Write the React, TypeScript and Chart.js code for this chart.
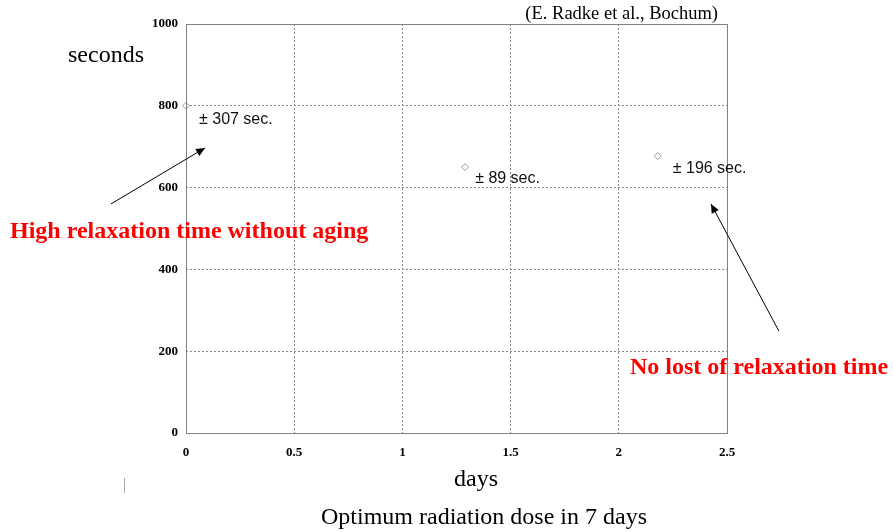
import React, { useEffect, useRef } from "react";
import { Chart, registerables } from "chart.js";

Chart.register(...registerables);

const daysValues = [0, 1.29, 2.18];
const secondsValues = [800, 650, 677];
const errorLabels = ["± 307 sec.", "± 89 sec.", "± 196 sec."];
const xTicks = [0, 0.5, 1, 1.5, 2, 2.5];
const yTicks = [0, 200, 400, 600, 800, 1000];
// arrows in data coordinates: [fromX, fromY, toX, toY]
const arrowLines = [
  [-0.347, 560, 0.088, 697],
  [2.74, 249, 2.426, 560],
];

const overlayPlugin = {
  id: "overlay",
  afterDraw(chart: any) {
    const ctx = chart.ctx;
    const a = chart.chartArea;
    const xs = chart.scales.x;
    const ys = chart.scales.y;
    ctx.save();
    // frame
    ctx.strokeStyle = "#808080";
    ctx.lineWidth = 1;
    ctx.strokeRect(a.left + 0.5, a.top + 0.5, a.right - a.left, a.bottom - a.top);

    // error labels
    ctx.fillStyle = "#111";
    ctx.font = "16px 'Liberation Sans', Arial, sans-serif";
    ctx.textBaseline = "middle";
    ctx.textAlign = "left";
    const offs = [
      [13, 14],
      [10, 11],
      [15, 12],
    ];
    errorLabels.forEach((t, i) => {
      const px = xs.getPixelForValue(daysValues[i]);
      const py = ys.getPixelForValue(secondsValues[i]);
      ctx.fillText(t, px + offs[i][0], py + offs[i][1]);
    });

    // arrows
    ctx.strokeStyle = "#000";
    ctx.fillStyle = "#000";
    ctx.lineWidth = 1;
    arrowLines.forEach(([x1, y1, x2, y2]) => {
      const p1x = xs.getPixelForValue(x1);
      const p1y = ys.getPixelForValue(y1);
      const p2x = xs.getPixelForValue(x2);
      const p2y = ys.getPixelForValue(y2);
      ctx.beginPath();
      ctx.moveTo(p1x, p1y);
      ctx.lineTo(p2x, p2y);
      ctx.stroke();
      const ang = Math.atan2(p2y - p1y, p2x - p1x);
      const L = 9, W = 4;
      ctx.beginPath();
      ctx.moveTo(p2x, p2y);
      ctx.lineTo(p2x - L * Math.cos(ang) + W * Math.sin(ang), p2y - L * Math.sin(ang) - W * Math.cos(ang));
      ctx.lineTo(p2x - L * Math.cos(ang) - W * Math.sin(ang), p2y - L * Math.sin(ang) + W * Math.cos(ang));
      ctx.closePath();
      ctx.fill();
    });

    // red texts
    ctx.fillStyle = "#ff0000";
    ctx.font = "bold 24px 'Liberation Serif', 'Times New Roman', serif";
    ctx.textAlign = "left";
    ctx.fillText("High relaxation time without aging", 10, 232);
    ctx.fillText("No lost of relaxation time", 630, 368);

    // other texts
    ctx.fillStyle = "#000";
    ctx.font = "24px 'Liberation Serif', 'Times New Roman', serif";
    ctx.fillText("seconds", 68, 56);
    ctx.textAlign = "center";
    ctx.fillText("days", 476, 480);
    ctx.fillText("Optimum radiation dose in 7 days", 484, 518);
    ctx.textAlign = "right";
    ctx.font = "18.5px 'Liberation Serif', 'Times New Roman', serif";
    ctx.fillText("(E. Radke et al., Bochum)", 718, 14);

    // small mark
    ctx.strokeStyle = "#aaa";
    ctx.beginPath();
    ctx.moveTo(124.5, 478);
    ctx.lineTo(124.5, 493);
    ctx.stroke();
    ctx.restore();
  },
};

export default function App() {
  const ref = useRef<HTMLCanvasElement>(null);
  useEffect(() => {
    const tickFont = { family: "'Liberation Serif', 'Times New Roman', serif", size: 13, weight: "bold" as const };
    const chart = new Chart(ref.current!, {
      type: "scatter",
      data: {
        datasets: [
          {
            data: daysValues.map((d, i) => ({ x: d, y: secondsValues[i] })),
            pointStyle: "rectRot",
            pointRadius: 3.5,
            pointBorderColor: "#999",
            pointBackgroundColor: "#fff",
            pointBorderWidth: 1,
            showLine: false,
            clip: false,
          },
        ],
      },
      options: {
        animation: false,
        responsive: false,
        layout: { padding: { left: 0, top: 24, right: 166, bottom: 0 } },
        plugins: { legend: { display: false }, tooltip: { enabled: false } },
        scales: {
          x: {
            type: "linear",
            min: 0,
            max: 2.5,
            afterBuildTicks: (s: any) => {
              s.ticks = xTicks.map((v) => ({ value: v }));
            },
            afterFit: (s: any) => {
              s.height = 99;
            },
            ticks: { font: tickFont, color: "#000", padding: 12, callback: (v: any) => String(v) },
            grid: { color: "#888", drawTicks: false, tickLength: 0 },
            border: { display: false, dash: [2, 2] },
          },
          y: {
            type: "linear",
            min: 0,
            max: 1000,
            afterBuildTicks: (s: any) => {
              s.ticks = yTicks.map((v) => ({ value: v }));
            },
            afterFit: (s: any) => {
              s.width = 186;
            },
            ticks: { font: tickFont, color: "#000", padding: 8, callback: (v: any) => String(v) },
            grid: { color: "#888", drawTicks: false, tickLength: 0 },
            border: { display: false, dash: [2, 2] },
          },
        },
      },
      plugins: [overlayPlugin],
    });
    return () => chart.destroy();
  }, []);
  return (
    <div style={{ position: "fixed", left: 0, top: 0, width: 893, height: 532, background: "#fff" }}>
      <canvas ref={ref} width={893} height={532} style={{ width: 893, height: 532 }} />
    </div>
  );
}
